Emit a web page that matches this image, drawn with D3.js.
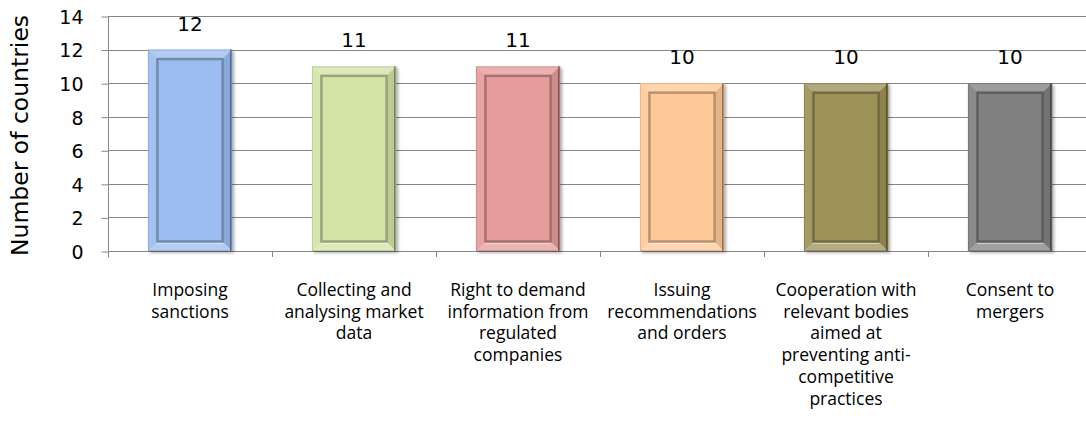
<!DOCTYPE html>
<html>
<head>
<meta charset="utf-8">
<script src="https://cdn.jsdelivr.net/npm/d3@7"></script>
<style>
  html, body { margin: 0; padding: 0; background: #fff; }
  svg { display: block; }
</style>
</head>
<body>
<svg id="chart" width="1086" height="430"></svg>
<script>
const categories = [
  "Imposing\nsanctions",
  "Collecting and\nanalysing market\ndata",
  "Right to demand\ninformation from\nregulated\ncompanies",
  "Issuing\nrecommendations\nand orders",
  "Cooperation with\nrelevant bodies\naimed at\npreventing anti-\ncompetitive\npractices",
  "Consent to\nmergers"
];
const values = [12, 11, 11, 10, 10, 10];
const barColors = ["#9BBDEF", "#D3E3A6", "#E69C9B", "#FFC997", "#9C9259", "#808080"];
const yTicks = [0, 2, 4, 6, 8, 10, 12, 14];
const yTitle = "Number of countries";

const svg = d3.select("#chart");
const plot = { left: 108, top: 16, right: 1092, bottom: 251 };

const x = d3.scaleBand().domain(categories).range([plot.left, plot.right]).paddingInner(0.487).paddingOuter(0.2435);
const y = d3.scaleLinear().domain([0, 14]).range([plot.bottom, plot.top]);

const defs = svg.append("defs");
const f = defs.append("filter").attr("id", "shadow").attr("x", "-20%").attr("y", "-20%").attr("width", "140%").attr("height", "140%");
f.append("feDropShadow").attr("dx", 2).attr("dy", 2).attr("stdDeviation", 1.5).attr("flood-color", "#000").attr("flood-opacity", 0.3);

// gridlines
svg.append("g")
  .selectAll("line")
  .data(yTicks)
  .join("line")
  .attr("x1", plot.left).attr("x2", plot.right)
  .attr("y1", d => Math.round(y(d)) + 0.5).attr("y2", d => Math.round(y(d)) + 0.5)
  .attr("stroke", "#868686").attr("stroke-width", 1);

// y axis
const yAxis = d3.axisLeft(y).tickValues(yTicks).tickSize(7).tickPadding(18);
const gy = svg.append("g").attr("transform", `translate(${plot.left + 0.5},0.5)`).call(yAxis);
gy.select(".domain").attr("stroke", "#868686").attr("d", `M0,${plot.top}V${plot.bottom + 6}`);
gy.selectAll(".tick line").attr("stroke", "#868686");
gy.selectAll(".tick text")
  .attr("font-family", "'DejaVu Sans', sans-serif")
  .attr("font-size", 19)
  .attr("fill", "#000")
  .attr("dy", "0.36em");

// x axis category boundary ticks
const bounds = categories.map((c, i) => plot.left + i * x.step()).concat([plot.left + categories.length * x.step()]);
svg.append("g").selectAll("line").data(bounds).join("line")
  .attr("x1", d => Math.round(d) + 0.5).attr("x2", d => Math.round(d) + 0.5)
  .attr("y1", plot.bottom).attr("y2", plot.bottom + 6)
  .attr("stroke", "#868686");

// bars
const bars = svg.append("g").selectAll("g").data(values).join("g")
  .attr("filter", "url(#shadow)");

bars.each(function(v, i) {
  const g = d3.select(this);
  const c = barColors[i];
  const x0 = x(categories[i]), w = x.bandwidth();
  const y0 = y(v), y1 = y(0), h = y1 - y0;
  const x1 = x0 + w;
  const b = 9;
  g.append("rect").attr("x", x0).attr("y", y0).attr("width", w).attr("height", h).attr("fill", c);
  // bevels
  g.append("polygon").attr("points", [[x0, y0], [x1, y0], [x1 - b, y0 + b], [x0 + b, y0 + b]].join(" "))
    .attr("fill", "#fff").attr("opacity", 0.22);
  g.append("polygon").attr("points", [[x0, y0], [x0 + b, y0 + b], [x0 + b, y1 - b], [x0, y1]].join(" "))
    .attr("fill", "#fff").attr("opacity", 0.08);
  g.append("polygon").attr("points", [[x1, y0], [x1, y1], [x1 - b, y1 - b], [x1 - b, y0 + b]].join(" "))
    .attr("fill", "#000").attr("opacity", 0.1);
  g.append("polygon").attr("points", [[x0, y1], [x0 + b, y1 - b], [x1 - b, y1 - b], [x1, y1]].join(" "))
    .attr("fill", "#fff").attr("opacity", 0.25);
  // inner frame
  const dk = d3.color(c).darker(1.4);
  g.append("rect").attr("x", x0 + b + 0.5).attr("y", y0 + b + 0.5).attr("width", w - 2 * b - 1).attr("height", h - 2 * b - 1)
    .attr("fill", "none").attr("stroke", dk).attr("stroke-width", 2.5).attr("opacity", 0.7);
  // light line along inner bottom
  g.append("line").attr("x1", x0 + b).attr("x2", x1 - b).attr("y1", y1 - b + 1.5).attr("y2", y1 - b + 1.5)
    .attr("stroke", "#fff").attr("opacity", 0.45).attr("stroke-width", 1.2);
  // outer edges
  g.append("line").attr("x1", x1 - 1).attr("x2", x1 - 1).attr("y1", y0).attr("y2", y1)
    .attr("stroke", d3.color(c).darker(1.6)).attr("stroke-width", 2.2);
  g.append("rect").attr("x", x0 + 0.5).attr("y", y0 + 0.5).attr("width", w - 1).attr("height", h - 1)
    .attr("fill", "none").attr("stroke", d3.color(c).darker(0.5)).attr("stroke-width", 1).attr("opacity", 0.6);
});

// data labels
svg.append("g").selectAll("text").data(values).join("text")
  .attr("x", (d, i) => x(categories[i]) + x.bandwidth() / 2)
  .attr("y", d => y(d) - 19)
  .attr("text-anchor", "middle")
  .attr("font-family", "'DejaVu Sans', sans-serif")
  .attr("font-size", 20)
  .attr("fill", "#000")
  .text(d => d);

// category labels
const catG = svg.append("g");
categories.forEach((c, i) => {
  const t = catG.append("text")
    .attr("x", x(c) + x.bandwidth() / 2)
    .attr("y", 296)
    .attr("text-anchor", "middle")
    .attr("font-family", "'Open Sans', sans-serif")
    .attr("font-size", 17.5)
    .attr("fill", "#000");
  c.split("\n").forEach((line, j) => {
    t.append("tspan").attr("x", x(c) + x.bandwidth() / 2).attr("y", 296 + j * 21.7).text(line);
  });
});

// y axis title
svg.append("text")
  .attr("transform", `translate(28, ${(plot.top + plot.bottom) / 2 + 2}) rotate(-90)`)
  .attr("text-anchor", "middle")
  .attr("font-family", "'DejaVu Sans', sans-serif")
  .attr("font-size", 23.5)
  .attr("fill", "#000")
  .text(yTitle);
</script>
</body>
</html>
